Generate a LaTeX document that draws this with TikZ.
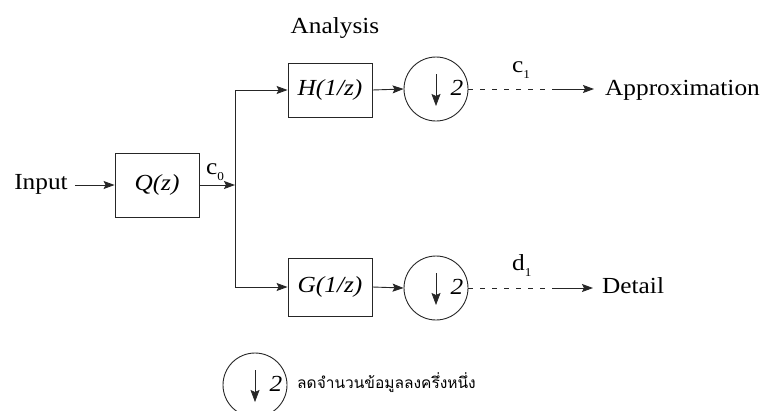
\documentclass[tikz,border=0pt]{standalone}
\usepackage{fontspec}
\setmainfont{Liberation Serif}[FakeStretch=1.1]
\newfontfamily\thaifont[Script=Thai]{Loma}
\usetikzlibrary{arrows.meta,calc}
\begin{document}
\begin{tikzpicture}[x=1pt,y=-1pt,
  ln/.style={line width=0.9pt,draw=black!85},
  arr/.style={ln,-{Stealth[length=11pt,width=8pt,inset=2pt]}},
  txt/.style={font=\fontsize{23}{26}\selectfont,inner sep=0pt},
  blk/.style={ln,rectangle,minimum width=84pt,font=\fontsize{23}{26}\selectfont\itshape,inner sep=0pt},
  dcirc/.style={ln,circle,minimum size=64pt,inner sep=0pt},
  dashseg/.style={ln,dash pattern=on 5pt off 7pt}]
\useasboundingbox (0,0) rectangle (768,410);

% text labels
\node[txt,anchor=base] (ana) at (335,33) {Analysis};
\node[txt,anchor=base] (inp) at (41,189) {Input};
\node[txt,anchor=base west] (appr) at (605,95) {Approximation};
\node[txt,anchor=base west] (det) at (602,293) {Detail};

% blocks
\node[blk,minimum height=64pt] (q) at (157,185) {Q(z)};
\node[blk,minimum height=54pt] (h) at (330,90) {H(1/z)};
\node[blk,minimum height=58pt] (g) at (330,287) {G(1/z)};

% downsampling circles
\node[dcirc] (dh) at (436,89) {};
\node[dcirc] (dg) at (436,288) {};
\node[dcirc] (dl) at (255,385) {};
\foreach \c in {dh,dg,dl}{
  \draw[ln,line width=0.7pt,-{Stealth[length=12pt,width=9pt,inset=2pt]}] ([yshift=15pt]\c.center) -- ([yshift=-17pt]\c.center);
  \node[txt,font=\fontsize{23}{26}\selectfont\itshape] (\c two) at ([xshift=21pt,yshift=1pt]\c.center) {2};
}

% coordinates
\coordinate (br) at (235,185);
\coordinate (ca) at (555,89);
\coordinate (cd) at (555,288);

% connectors
\draw[arr] ([xshift=7pt]inp.east |- q.west) -- (q.west);
\draw[arr] (q.east) -- (br);
\draw[ln] (br) -- (br |- h.west);
\draw[ln] (br) -- (br |- g.west);
\draw[arr] (br |- h.west) -- (h.west);
\draw[arr] (br |- g.west) -- (g.west);
\draw[arr] (h.east) -- (dh.west);
\draw[arr] (g.east) -- (dg.west);
\draw[dashseg] (dh.east) -- (ca);
\draw[dashseg] (dg.east) -- (cd);
\draw[arr] (ca) -- ([xshift=-11pt]appr.west |- ca);
\draw[arr] (cd) -- ([xshift=-9pt]det.west |- cd);

% signal labels
\node[txt,anchor=base west] (c0) at (206,174) {c\raisebox{-6pt}{\fontsize{12}{12}\selectfont 0}};
\node[txt,anchor=base west] (c1) at (512,72) {c\raisebox{-6pt}{\fontsize{12}{12}\selectfont 1}};
\node[txt,anchor=base west] (d1) at (512,270) {d\raisebox{-6pt}{\fontsize{12}{12}\selectfont 1}};

% legend text
\node[inner sep=0pt,anchor=west,font=\thaifont\fontsize{15.5}{20}\selectfont] (leg) at (297,383) {ลดจำนวนข้อมูลลงครึ่งหนึ่ง};
\end{tikzpicture}
\end{document}
